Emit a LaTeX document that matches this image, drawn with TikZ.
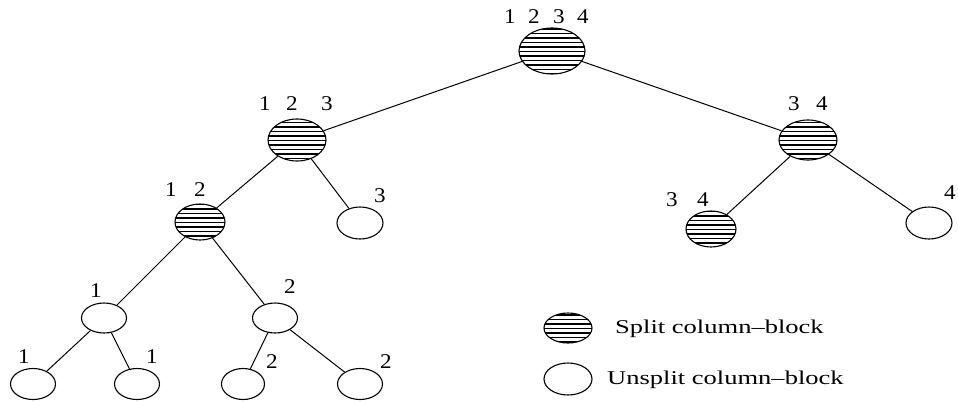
\documentclass[tikz,border=0pt]{standalone}
\usepackage{fontspec}
\setmainfont{Liberation Serif}
\newfontfamily\legfont[FakeStretch=1.36]{Liberation Serif}
\newfontfamily\numfont[FakeStretch=1.1]{Liberation Serif}
\usetikzlibrary{shapes.geometric}
\tikzset{
  blk/.style={ellipse, draw, line width=1.1pt, inner sep=0pt},
  big/.style={blk, minimum width=60pt, minimum height=42pt},
  mid/.style={blk, minimum width=52pt, minimum height=37pt},
  small/.style={blk, minimum width=46pt, minimum height=32pt},
  hatched/.style={path picture={
      \foreach \k in {-32,-27.5,...,32}
        \draw[line width=1.6pt]
          ([xshift=-40pt,yshift=\k pt]path picture bounding box.center) -- ++(80pt,0);}},
  lbl/.style={font=\numfont\fontsize{21}{21}\selectfont, inner sep=0pt},
  leg/.style={font=\legfont\fontsize{19.5}{19.5}\selectfont, anchor=west, inner sep=0pt},
  edge/.style={line width=1pt}
}
\begin{document}
\begin{tikzpicture}[x=1pt,y=-1pt]
\useasboundingbox (0,0) rectangle (958,402);

% tree of column-blocks
\node[big, hatched, minimum width=66pt, minimum height=46pt] (r) at (552,51) {};
\node[big, hatched, minimum width=58pt] (a) at (297,140) {};
\node[big, hatched, minimum width=58pt, minimum height=40pt] (b) at (808,140) {};
\node[mid, hatched, minimum width=50pt, minimum height=36pt] (c) at (200,222) {};
\node[small] (d) at (360,223) {};
\node[mid, hatched, minimum width=50pt, minimum height=36pt] (e) at (711,229) {};
\node[small] (f) at (929,223) {};
\node[small, minimum width=45pt, minimum height=30pt] (g) at (104,318) {};
\node[small, minimum width=45pt, minimum height=30pt] (h) at (275,318) {};
\node[small, minimum width=45pt, minimum height=31pt] (i) at (33,384) {};
\node[small, minimum width=45pt, minimum height=31pt] (j) at (137,384) {};
\node[small, minimum width=43pt, minimum height=31pt] (k) at (243,384) {};
\node[small, minimum width=45pt, minimum height=31pt] (l) at (360,384) {};

\draw[edge] (r) -- (a);
\draw[edge] (r) -- (b);
\draw[edge] (a) -- (c);
\draw[edge] (a) -- (d);
\draw[edge] (b) -- (e);
\draw[edge] (b) -- (f);
\draw[edge] (c) -- (g);
\draw[edge] (c) -- (h);
\draw[edge] (g) -- (i);
\draw[edge] (g) -- (j);
\draw[edge] (h) -- (k);
\draw[edge] (h) -- (l);

% column labels
\node[lbl] (r1) at (510,17) {1};
\node[lbl] (r2) at (534,17) {2};
\node[lbl] (r3) at (559,17) {3};
\node[lbl] (r4) at (583,17) {4};
\node[lbl] (a1) at (265,104) {1};
\node[lbl] (a2) at (292,104) {2};
\node[lbl] (a3) at (327,104) {3};
\node[lbl] (b3) at (794,104) {3};
\node[lbl] (b4) at (822,104) {4};
\node[lbl] (c1) at (171,190) {1};
\node[lbl] (c2) at (200,190) {2};
\node[lbl] (d3) at (380,196) {3};
\node[lbl] (e3) at (672,200) {3};
\node[lbl] (e4) at (703,200) {4};
\node[lbl] (f4) at (950,193) {4};
\node[lbl] (g1) at (96,291) {1};
\node[lbl] (h2) at (290,287) {2};
\node[lbl] (i1) at (24,357) {1};
\node[lbl] (j1) at (152,357) {1};
\node[lbl] (k2) at (272,362) {2};
\node[lbl] (l2) at (386,362) {2};

% legend
\node[blk, hatched, minimum width=48pt, minimum height=30pt] (ls) at (568,328) {};
\node[blk, minimum width=48pt, minimum height=32pt] (lu) at (568,379) {};
\node[leg] (lst) at (615,329) {Split column\textendash block};
\node[leg] (lut) at (607,380) {Unsplit column\textendash block};
\end{tikzpicture}
\end{document}
